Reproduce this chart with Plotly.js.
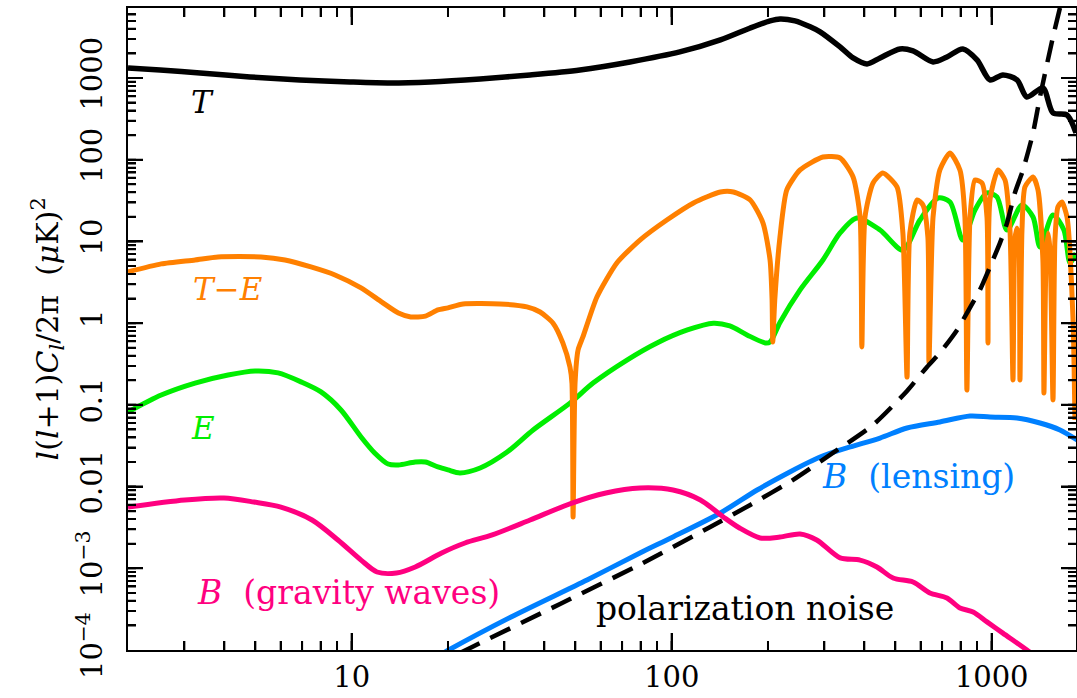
<!DOCTYPE html>
<html>
<head>
<meta charset="utf-8">
<script src="https://cdn.plot.ly/plotly-3.0.1.min.js"></script>
<style>
  html, body { margin: 0; padding: 0; background: #ffffff; }
  #chart { width: 1077px; height: 698px; }
</style>
</head>
<body>
<div id="chart"></div>
<script>
// ---- Data (multipole l, l(l+1)C_l/2pi in muK^2) ----
const ellT = [2, 2.52, 3.36, 4.81, 6.89, 9.88, 13.2, 17.6, 25.2, 36.1, 51.7, 74.1, 106, 142, 176, 203, 218, 243, 271, 291, 336, 369, 408, 448, 517, 568, 656, 725, 813, 900, 988, 1084, 1200, 1289, 1446, 1555, 1720, 1835];
const clT = [1331, 1256, 1154, 1031, 948, 896, 871, 896, 975, 1091, 1256, 1574, 2085, 2930, 4100, 5000, 5290, 5000, 4230, 3670, 2400, 1762, 1489, 1762, 2270, 2147, 1574, 1813, 2270, 1667, 948, 1091, 948, 586, 757, 374, 353, 213];
const ellTE = [2, 2.54, 3.24, 3.82, 5.21, 6.19, 7.46, 8.87, 10.7, 12.4, 14.0, 15.3, 17.0, 18.6, 20, 22.3, 29.1, 35.3, 38.8, 42.6, 45.7, 48.1, 48.8, 49.2, 49.9, 51.0, 52.8, 58.4, 67.4, 79.6, 96.6, 117, 142, 156, 176, 193, 203, 206, 207, 210, 218, 229, 252, 297, 336, 369, 388, 393, 402, 426, 457, 506, 528, 544, 555, 585, 610, 632, 637, 656, 689, 741, 796, 825, 837, 856, 887, 933, 967, 974, 988, 1047, 1101, 1141, 1166, 1182, 1200, 1217, 1226, 1244, 1271, 1347, 1396, 1446, 1457, 1479, 1500, 1522, 1555, 1577, 1611, 1658, 1720, 1795, 1821];
const clTE = [4.24, 5.31, 5.94, 6.46, 6.46, 5.94, 4.88, 3.89, 2.70, 1.82, 1.33, 1.19, 1.22, 1.45, 1.54, 1.72, 1.72, 1.58, 1.37, 1.00, 0.573, 0.291, 0.185, 0.00425, 0.185, 0.470, 0.678, 2.09, 5.46, 10.4, 18.3, 29.6, 40.3, 40.3, 32.2, 16.8, 5.94, 1.92, 0.589, 1.92, 11.3, 42.7, 75, 108, 105, 61.5, 19.9, 0.512, 19.9, 52, 68.9, 46.5, 12.7, 0.219, 12.7, 32.2, 28, 11.3, 0.326, 19.9, 75, 121, 75, 19.9, 0.152, 19.9, 56.5, 52, 19.9, 0.573, 32.2, 75, 56.5, 13.8, 0.202, 10.4, 14.6, 10.4, 0.202, 13.8, 46.5, 61.5, 42.6, 5.93, 0.140, 5.93, 12.7, 7.86, 0.115, 10.4, 26.4, 30.4, 19.9, 1.19, 0.0653];
const ellE = [2, 2.54, 3.24, 4.11, 4.99, 5.89, 6.95, 8.02, 9.26, 10.7, 11.8, 13.0, 14.0, 15.8, 17.0, 18.6, 20, 21.8, 25.2, 30.6, 36.9, 48.1, 56.8, 72.5, 90.0, 112, 135, 152, 172, 196, 203, 218, 252, 297, 336, 379, 448, 528, 597, 680, 741, 813, 887, 967, 1039, 1117, 1244, 1347, 1416, 1555, 1682, 1758, 1835];
const clE = [0.0818, 0.132, 0.185, 0.232, 0.260, 0.246, 0.191, 0.144, 0.0866, 0.0405, 0.0258, 0.0189, 0.0184, 0.0200, 0.0200, 0.0174, 0.0160, 0.0147, 0.0169, 0.0265, 0.0493, 0.105, 0.185, 0.354, 0.573, 0.826, 1.00, 0.925, 0.718, 0.573, 0.589, 1.02, 2.55, 5.93, 12.7, 19.4, 13.8, 7.86, 18.3, 34.0, 30.4, 10.4, 24.3, 39.3, 35.1, 13.8, 28.0, 19.9, 8.57, 21.1, 13.8, 5.46, 7.23];
const ellBgw = [2, 3.01, 3.99, 4.95, 6.01, 7.52, 9.06, 10.7, 12.0, 13.8, 15.8, 19.1, 22.6, 27.5, 36.1, 48.8, 62.3, 79.6, 101, 123, 145, 163, 189, 218, 252, 284, 336, 388, 438, 492, 568, 641, 725, 796, 875, 967, 1084, 1289, 1365];
const clBgw = [0.00562, 0.00686, 0.00725, 0.00647, 0.00562, 0.00390, 0.00222, 0.00126, 0.000901, 0.000875, 0.001037, 0.00154, 0.00204, 0.00256, 0.00390, 0.00629, 0.00835, 0.00962, 0.00908, 0.00686, 0.00425, 0.00311, 0.00235, 0.00241, 0.00263, 0.00222, 0.00134, 0.00126, 0.001037, 0.00076, 0.000679, 0.000499, 0.000433, 0.000327, 0.000292, 0.000221, 0.000161, 0.0001, 0.0000845];
const ellBlens = [18.9, 20.1, 31.5, 54.4, 79.6, 101, 142, 185, 234, 291, 353, 448, 544, 689, 856, 988, 1200, 1416, 1635, 1849];
const clBlens = [0.0000869, 0.0001, 0.000254, 0.00072, 0.00154, 0.00242, 0.00475, 0.00908, 0.0151, 0.0230, 0.0297, 0.0393, 0.0521, 0.0618, 0.0731, 0.0711, 0.0692, 0.060, 0.0493, 0.0372];
const ellNoise = [21.8, 23.8, 44.8, 81.3, 132, 176, 239, 319, 426, 544, 628, 689, 780, 837, 919, 988, 1062, 1117, 1182, 1253, 1347, 1416, 1555, 1658];
const clNoise = [0.0000919, 0.000109, 0.000366, 0.00116, 0.00321, 0.00596, 0.0120, 0.0258, 0.0568, 0.148, 0.291, 0.432, 0.826, 1.33, 2.55, 4.88, 9.6, 16.8, 39.3, 75, 213, 588, 3186, 9040];

// ---- Tick values and labels ----
const xTickVals = [10, 100, 1000];
const xTickText = ['10', '100', '1000'];
const yTickVals = [1e-4, 1e-3, 0.01, 0.1, 1, 10, 100, 1000];
const yTickText = ['10<sup>\u22124</sup>', '10<sup>\u22123</sup>', '0.01', '0.1', '1', '10', '100', '1000'];

const FONT = 'DejaVu Serif, Liberation Serif, serif';
const C_ORANGE = '#ff8000', C_GREEN = '#00ee00', C_PINK = '#ff0080', C_BLUE = '#0080ff';

const traces = [
  {x: ellE, y: clE, mode: 'lines', line: {color: C_GREEN, width: 5, shape: 'spline', smoothing: 0.8}},
  {x: ellTE, y: clTE, mode: 'lines', line: {color: C_ORANGE, width: 5, shape: 'spline', smoothing: 0.6}},
  {x: ellBlens, y: clBlens, mode: 'lines', line: {color: C_BLUE, width: 5, shape: 'spline', smoothing: 0.8}},
  {x: ellBgw, y: clBgw, mode: 'lines', line: {color: C_PINK, width: 5, shape: 'spline', smoothing: 0.8}},
  {x: ellT, y: clT, mode: 'lines', line: {color: '#000000', width: 5.5, shape: 'spline', smoothing: 0.8}},
  {x: ellNoise, y: clNoise, mode: 'lines', line: {color: '#000000', width: 4.5, dash: '22px,12px', shape: 'spline', smoothing: 0.6}}
];
const minorTicks = (len) => ({ticks: 'inside', ticklen: len, tickwidth: 2, tickcolor: '#000', dtick: 'D1', showgrid: false});
const layout = {
  width: 1077, height: 698,
  margin: {l: 128, r: 1, t: 8, b: 48},
  showlegend: false,
  xaxis: {
    type: 'log', range: [Math.log10(2), Math.log10(1835)],
    showgrid: false, zeroline: false, showline: true, linecolor: '#000', linewidth: 2, mirror: 'ticks',
    ticks: 'inside', ticklen: 17, tickwidth: 2, tickcolor: '#000',
    tickmode: 'array', tickvals: xTickVals, ticktext: xTickText,
    tickfont: {family: FONT, size: 29, color: '#000'}, minor: minorTicks(9)
  },
  yaxis: {
    type: 'log', range: [-4, 3.857],
    showgrid: false, zeroline: false, showline: true, linecolor: '#000', linewidth: 2, mirror: 'ticks',
    ticks: 'inside', ticklen: 15, tickwidth: 2, tickcolor: '#000',
    tickmode: 'array', tickvals: yTickVals, ticktext: yTickText, tickangle: -90, ticklabelstandoff: 12,
    tickfont: {family: FONT, size: 29, color: '#000'}, minor: minorTicks(8)
  },
  annotations: [
    {xref: 'paper', yref: 'paper', x: -0.085, y: 0.5, textangle: -90, showarrow: false, xanchor: 'center', yanchor: 'middle',
     text: '<i>l</i>(<i>l</i>+1)<i>C<sub>l</sub></i>/2\u03c0  (<i>\u03bc</i>K)<sup>2</sup>', font: {family: FONT, size: 30, color: '#000'}},
    {xref: 'paper', yref: 'paper', x: 0.079, y: 0.854, xanchor: 'center', yanchor: 'middle', showarrow: false, text: '<i>T</i>', font: {family: FONT, size: 31, color: '#000'}},
    {xref: 'paper', yref: 'paper', x: 0.1055, y: 0.562, xanchor: 'center', yanchor: 'middle', showarrow: false, text: '<i>T\u2212E</i>', font: {family: FONT, size: 31, color: C_ORANGE}},
    {xref: 'paper', yref: 'paper', x: 0.079, y: 0.346, xanchor: 'center', yanchor: 'middle', showarrow: false, text: '<i>E</i>', font: {family: FONT, size: 31, color: C_GREEN}},
    {xref: 'paper', yref: 'paper', x: 0.233, y: 0.0888, xanchor: 'center', yanchor: 'middle', showarrow: false, text: '<i>B</i>  (gravity waves)', font: {family: FONT, size: 33, color: C_PINK}},
    {xref: 'paper', yref: 'paper', x: 0.834, y: 0.2695, xanchor: 'center', yanchor: 'middle', showarrow: false, text: '<i>B</i>  (lensing)', font: {family: FONT, size: 33, color: C_BLUE}},
    {xref: 'paper', yref: 'paper', x: 0.651, y: 0.0654, xanchor: 'center', yanchor: 'middle', showarrow: false, text: 'polarization noise', font: {family: FONT, size: 33, color: '#000'}}
  ]
};

Plotly.newPlot('chart', traces, layout, {displayModeBar: false, staticPlot: true}).then(gd => {
  // re-host Plotly's own tick marks on the top SVG layer so nothing can paint over them
  const svgs = gd.querySelectorAll('svg.main-svg');
  const top = svgs[svgs.length - 1];
  const ns = 'http://www.w3.org/2000/svg';
  const g = document.createElementNS(ns, 'g');
  gd.querySelectorAll('path.xtick, path.ytick').forEach(p => {
    const c = p.cloneNode(true);
    c.removeAttribute('class');
    c.setAttribute('fill', 'none');
    c.setAttribute('stroke', '#000');
    c.setAttribute('stroke-width', '2');
    g.appendChild(c);
  });
  top.appendChild(g);
});
</script>
</body>
</html>
